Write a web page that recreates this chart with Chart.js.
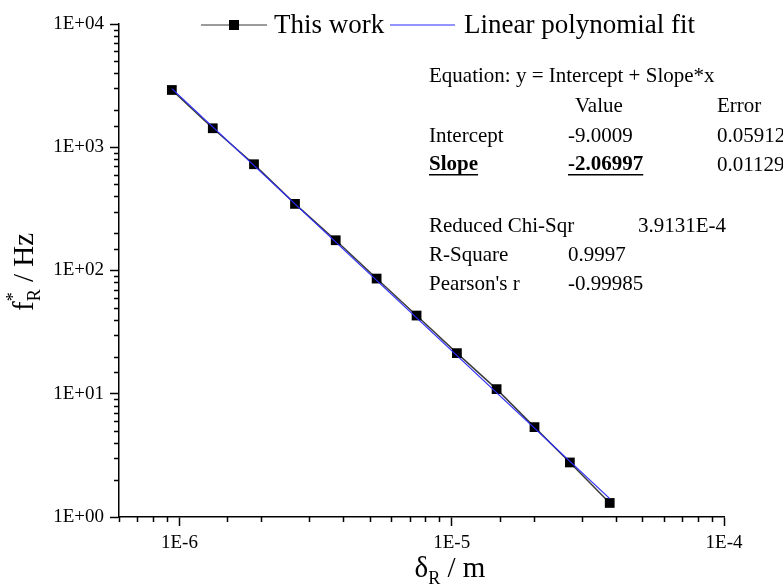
<!DOCTYPE html>
<html>
<head>
<meta charset="utf-8">
<script src="https://cdn.jsdelivr.net/npm/chart.js@4.4.1/dist/chart.umd.min.js"></script>
<style>
  html, body { margin: 0; padding: 0; background: #fff; }
</style>
</head>
<body>
<canvas id="chart" width="783" height="585"></canvas>
<script>
const deltaR = [9.38e-7, 1.326e-6, 1.879e-6, 2.658e-6, 3.75e-6, 5.30e-6, 7.43e-6, 1.045e-5, 1.462e-5, 2.014e-5, 2.716e-5, 3.805e-5];
const freqR  = [2915, 1426, 728, 347, 176, 86.0, 43.1, 21.35, 10.9, 5.36, 2.77, 1.30];

// end points of the fitted line
const fitX = [9.38e-7, 3.805e-5];
const fitY = [2990, 1.41];

// axis tick labels (only the decades carry text)
const xTickValues = [1e-6, 1e-5, 1e-4];
const xTickLabels = ['1E-6', '1E-5', '1E-4'];
const yTickValues = [1, 10, 100, 1000, 10000];
const yTickLabels = ['1E+00', '1E+01', '1E+02', '1E+03', '1E+04'];

const seriesNames = ['This work', 'Linear polynomial fit'];

// fit report text
const fitEquation = 'Equation: y = Intercept + Slope*x';
const fitHeader = ['Value', 'Error'];
const fitParams = [
    ['Intercept', '-9.0009', '0.05912'],
    ['Slope', '-2.06997', '0.01129']
];
const fitStats = [
    ['Reduced Chi-Sqr', '3.9131E-4'],
    ['R-Square', '0.9997'],
    ["Pearson's r", '-0.99985']
];

const FONT = '"Liberation Serif", "DejaVu Serif", serif';
const DATA_LINE = '#3c3c3c';
const FIT_LINE = '#2a2aff';

const isMajor = v => Math.abs(Math.log10(v) - Math.round(Math.log10(v))) < 1e-6;
const labelFor = (v, vals, labels) => {
    const i = vals.findIndex(t => Math.abs(Math.log10(t) - Math.log10(v)) < 1e-6);
    return i >= 0 ? labels[i] : '';
};

// short minor ticks, axis titles with sub/superscripts, legend and fit report
const decorPlugin = {
    id: 'decor',
    afterDraw(chart) {
        const ctx = chart.ctx;
        const xs = chart.scales.x, ys = chart.scales.y;
        ctx.save();
        ctx.strokeStyle = '#000';
        ctx.lineWidth = 1.5;
        ctx.beginPath();
        xs.ticks.forEach(t => {
            if (isMajor(t.value)) return;
            const px = Math.round(xs.getPixelForValue(t.value)) + 0.5;
            ctx.moveTo(px, xs.top);
            ctx.lineTo(px, xs.top + 5);
        });
        ys.ticks.forEach(t => {
            if (isMajor(t.value)) return;
            const py = Math.round(ys.getPixelForValue(t.value)) + 0.5;
            ctx.moveTo(ys.right - 5, py);
            ctx.lineTo(ys.right, py);
        });
        ctx.stroke();

        // x title: delta_R / m
        ctx.fillStyle = '#000';
        ctx.textBaseline = 'alphabetic';
        const big = `29px ${FONT}`, small = `18px ${FONT}`;
        ctx.font = big;
        const wD = ctx.measureText('δ').width;
        const wRest = ctx.measureText(' / m').width;
        ctx.font = small;
        const wR = ctx.measureText('R').width;
        let x0 = 450 - (wD + wR + wRest) / 2;
        const by = 577;
        ctx.font = big; ctx.fillText('δ', x0, by);
        ctx.font = small; ctx.fillText('R', x0 + wD, by + 7);
        ctx.font = big; ctx.fillText(' / m', x0 + wD + wR, by);

        // y title: f*_R / Hz (rotated)
        ctx.save();
        ctx.translate(33, 272);
        ctx.rotate(-Math.PI / 2);
        ctx.font = big;
        const wf = ctx.measureText('f').width;
        const wHz = ctx.measureText(' / Hz').width;
        ctx.font = small;
        const wSub = ctx.measureText('R').width;
        let y0 = -(wf + wSub + wHz) / 2;
        ctx.font = big; ctx.fillText('f', y0, 0);
        ctx.font = small;
        ctx.fillText('*', y0 + wf, -14);
        ctx.fillText('R', y0 + wf, 7);
        ctx.font = big; ctx.fillText(' / Hz', y0 + wf + wSub, 0);
        ctx.restore();

        // legend
        ctx.textBaseline = 'middle';
        ctx.font = `27px ${FONT}`;
        ctx.strokeStyle = '#7a7a7a';
        ctx.lineWidth = 1.5;
        ctx.beginPath(); ctx.moveTo(201, 25); ctx.lineTo(267, 25); ctx.stroke();
        ctx.fillStyle = '#000';
        ctx.fillRect(234 - 5, 25 - 5, 10, 10);
        ctx.fillText(seriesNames[0], 274, 26);
        ctx.strokeStyle = FIT_LINE;
        ctx.lineWidth = 1.2;
        ctx.beginPath(); ctx.moveTo(390, 25); ctx.lineTo(455, 25); ctx.stroke();
        ctx.fillText(seriesNames[1], 464, 26);

        // fit report
        const reg = `21px ${FONT}`, bold = `bold 21px ${FONT}`;
        ctx.font = reg;
        ctx.fillText(fitEquation, 429, 76);
        ctx.fillText(fitHeader[0], 575, 106);
        ctx.fillText(fitHeader[1], 717, 106);
        const rowY = [136, 165];
        fitParams.forEach((r, i) => {
            const under = i === 1;
            ctx.font = under ? bold : reg;
            ctx.fillText(r[0], 429, rowY[i]);
            ctx.fillText(r[1], 568, rowY[i]);
            if (under) {
                ctx.fillRect(429, rowY[i] + 9, ctx.measureText(r[0]).width, 1.5);
                ctx.fillRect(568, rowY[i] + 9, ctx.measureText(r[1]).width, 1.5);
            }
            ctx.font = reg;
            ctx.fillText(r[2], 717, rowY[i]);
        });
        const statY = [226, 255, 284];
        const statX = [638, 568, 568];
        fitStats.forEach((r, i) => {
            ctx.fillText(r[0], 429, statY[i]);
            ctx.fillText(r[1], statX[i], statY[i]);
        });
        ctx.restore();
    }
};

const axisFont = { family: FONT, size: 19 };

new Chart(document.getElementById('chart'), {
    type: 'scatter',
    data: {
        datasets: [
            {
                label: seriesNames[0],
                data: deltaR.map((x, i) => ({ x: x, y: freqR[i] })),
                showLine: true,
                borderColor: DATA_LINE,
                borderWidth: 1.5,
                pointStyle: 'rect',
                pointRadius: 6.9,
                pointBackgroundColor: '#000',
                pointBorderColor: '#000',
                pointBorderWidth: 0,
                order: 1
            },
            {
                label: seriesNames[1],
                data: fitX.map((x, i) => ({ x: x, y: fitY[i] })),
                showLine: true,
                borderColor: FIT_LINE,
                borderWidth: 1.2,
                pointRadius: 0,
                order: 0
            }
        ]
    },
    options: {
        responsive: false,
        animation: false,
        devicePixelRatio: 1,
        layout: { padding: { top: 24, right: 59, left: 0, bottom: 0 } },
        plugins: { legend: { display: false }, tooltip: { enabled: false } },
        scales: {
            x: {
                type: 'logarithmic',
                min: 6e-7,
                max: 1e-4,
                border: { display: true, color: '#000', width: 1.5 },
                grid: {
                    drawOnChartArea: false,
                    drawTicks: true,
                    tickLength: 9,
                    tickWidth: 1.5,
                    tickColor: c => isMajor(c.tick.value) ? '#000' : 'rgba(0,0,0,0)'
                },
                ticks: {
                    autoSkip: false,
                    maxRotation: 0,
                    color: '#000',
                    font: axisFont,
                    padding: 6,
                    callback: v => labelFor(v, xTickValues, xTickLabels)
                },
                afterFit: s => { s.height = 68; }
            },
            y: {
                type: 'logarithmic',
                min: 1,
                max: 1e4,
                border: { display: true, color: '#000', width: 1.5 },
                grid: {
                    drawOnChartArea: false,
                    drawTicks: true,
                    tickLength: 9,
                    tickWidth: 1.5,
                    tickColor: c => isMajor(c.tick.value) ? '#000' : 'rgba(0,0,0,0)'
                },
                ticks: {
                    autoSkip: false,
                    color: '#000',
                    font: axisFont,
                    padding: 6,
                    callback: v => labelFor(v, yTickValues, yTickLabels)
                },
                afterFit: s => { s.width = 119; }
            }
        }
    },
    plugins: [decorPlugin]
});
</script>
</body>
</html>
